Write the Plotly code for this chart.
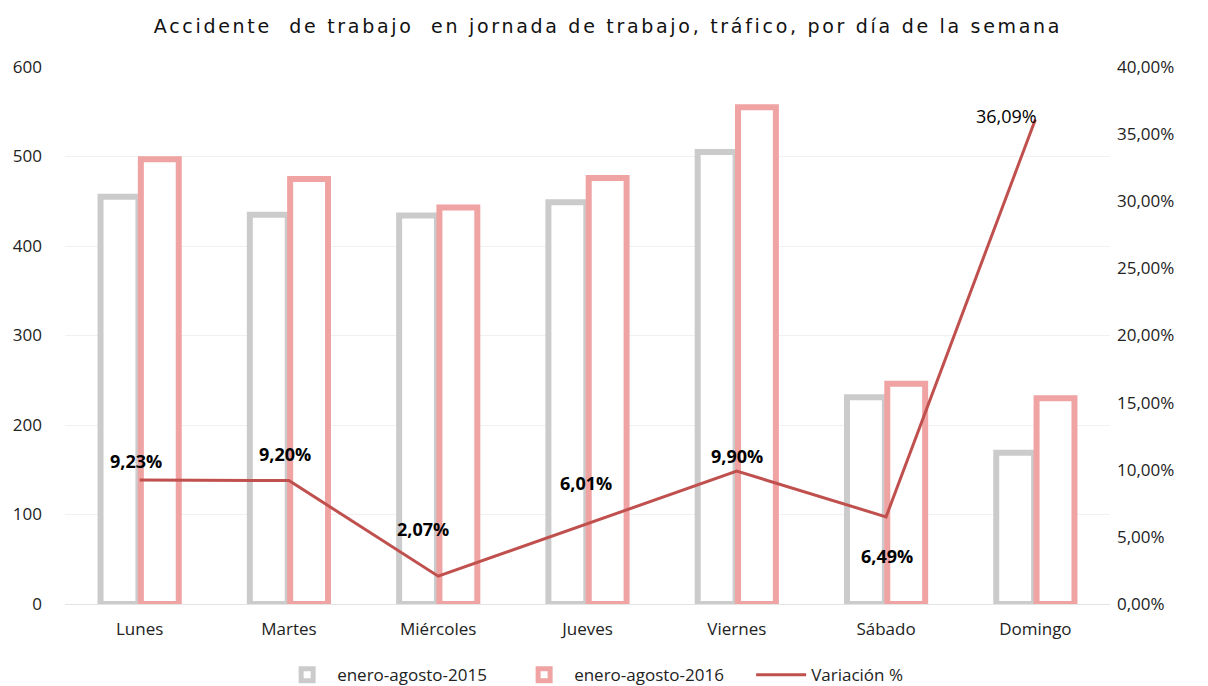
import plotly.graph_objects as go

dias = ["Lunes", "Martes", "Miércoles", "Jueves", "Viernes", "Sábado", "Domingo"]
v2015 = [455, 435, 434, 449, 505, 231, 169]
v2016 = [497, 475, 443, 476, 555, 246, 230]
variacion = [0.0923, 0.0920, 0.0207, 0.0601, 0.0990, 0.0649, 0.3609]
left_ticks = [0, 100, 200, 300, 400, 500, 600]
right_ticks = [0, 0.05, 0.10, 0.15, 0.20, 0.25, 0.30, 0.35, 0.40]

# label offsets (pixels) for the data labels of the variation line
lab_dx = [-4, -4, -15, -2, 0, 1, 4]
lab_dy = [19, 26, 47, 40, 15, -39, 3]
lab_anchor = ["center", "center", "center", "center", "center", "center", "right"]
lab_bold = [True, True, True, True, True, True, False]

FONT = "Open Sans"

fig = go.Figure()
fig.add_trace(go.Bar(
    x=dias, y=v2015, name="enero-agosto-2015",
    marker=dict(color="white", line=dict(color="#cbcbcb", width=6)),
))
fig.add_trace(go.Bar(
    x=dias, y=v2016, name="enero-agosto-2016",
    marker=dict(color="white", line=dict(color="#f0a3a3", width=6)),
))
fig.add_trace(go.Scatter(
    x=dias, y=variacion, name="Variación %", yaxis="y2",
    mode="lines", line=dict(color="#c0504d", width=3),
))

for d, v, dx, dy, anc, b in zip(dias, variacion, lab_dx, lab_dy, lab_anchor, lab_bold):
    txt = f"{v*100:.2f}%".replace(".", ",")
    fig.add_annotation(
        x=d, y=v, xref="x", yref="y2",
        text=f"<b>{txt}</b>" if b else txt,
        showarrow=False, xanchor=anc, yanchor="middle",
        xshift=dx, yshift=dy,
        font=dict(family=FONT, size=18, color="black"),
    )

fig.update_layout(
    width=1200, height=678,
    margin=dict(l=57, r=98, t=59, b=82, autoexpand=False),
    plot_bgcolor="white", paper_bgcolor="white",
    separators=",.",
    barmode="group", bargap=0.46, bargroupgap=0.06,
    title=dict(
        text='<span style="letter-spacing:2.7px">Accidente  de trabajo  en jornada de trabajo, tráfico, por día de la semana</span>',
        x=0.5, xanchor="center", y=0.973, yanchor="middle",
        font=dict(family="DejaVu Sans", size=19, color="#111111"),
    ),
    font=dict(family=FONT, size=17, color="#222222"),
    xaxis=dict(
        showline=True, linecolor="#e3e3e3", linewidth=1,
        ticks="", tickfont=dict(size=17), automargin=False,
        ticklabelstandoff=10,
    ),
    yaxis=dict(
        range=[0, 600], tickvals=left_ticks, showgrid=True,
        gridcolor="#f1f1f1", zeroline=False, tickfont=dict(size=17),
        ticklabelstandoff=22, automargin=False,
    ),
    yaxis2=dict(
        range=[0, 0.40], tickvals=right_ticks, tickformat=".2%",
        overlaying="y", side="right", showgrid=False, zeroline=False,
        tickfont=dict(size=17), automargin=False, ticklabelstandoff=6,
    ),
    legend=dict(
        orientation="h", x=0.203, xanchor="left",
        yref="container", y=0.016, yanchor="middle",
        font=dict(size=17), itemwidth=50, entrywidth=172,
    ),
)

fig.write_html("out.html")
